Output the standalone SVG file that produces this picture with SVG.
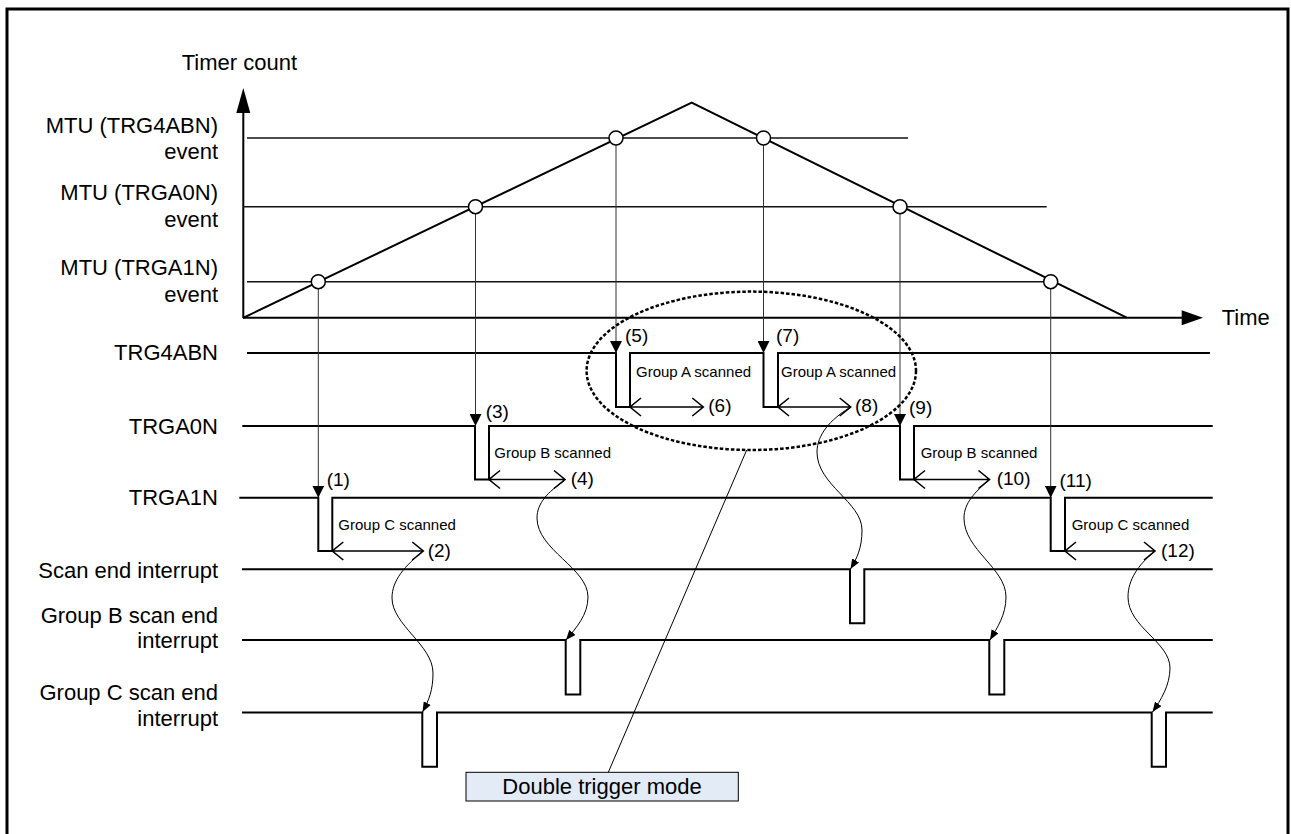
<svg xmlns="http://www.w3.org/2000/svg" width="1291" height="834" viewBox="0 0 1291 834">
<style>
text{font-family:"Liberation Sans",Arial,sans-serif;fill:#000}
.lbl{font-size:22px;text-anchor:end}
.num{font-size:19px}
.grp{font-size:15px}
.sig{fill:none;stroke:#000;stroke-width:2}
.thr{fill:none;stroke:#111;stroke-width:1.5}
.trig{fill:none;stroke:#333;stroke-width:1;marker-end:url(#fa)}
.curve{fill:none;stroke:#000;stroke-width:1;marker-end:url(#sa)}
.dbl{fill:none;stroke:#000;stroke-width:1.6}
.pt{fill:#fff;stroke:#000;stroke-width:1.5}
</style>
<defs>
<marker id="fa" markerUnits="userSpaceOnUse" markerWidth="12" markerHeight="12" refX="12" refY="6" orient="auto"><path d="M0,0 L12,6 L0,12 z" fill="#000"/></marker>
<marker id="sa" markerUnits="userSpaceOnUse" markerWidth="10" markerHeight="8" refX="10" refY="4" orient="auto"><path d="M0,0 L10,4 L0,8 z" fill="#000"/></marker>
</defs>
<rect width="1291" height="834" fill="#fff"/>
<path d="M7,834 V9 H1288 V834" fill="none" stroke="#000" stroke-width="3"/>

<g id="chart">
<path d="M243.3,318 V104" fill="none" stroke="#000" stroke-width="2"/>
<path d="M236.3,113 L243.3,88 L250.3,113 z" fill="#000"/>
<path d="M243,317.7 H1185" fill="none" stroke="#000" stroke-width="2"/>
<path d="M1181.7,310.2 L1203,317.7 L1181.7,325.2 z" fill="#000"/>
<path class="thr" d="M247,138 H908"/>
<path class="thr" d="M243,206.7 H1046.7"/>
<path class="thr" d="M247,281.7 H1051"/>
<path d="M243,318 L691.7,102.7 L1126.7,317.7" fill="none" stroke="#000" stroke-width="2"/>
<text x="181.7" y="70" style="font-size:22px">Timer count</text>
<text x="1221.7" y="325" style="font-size:22px">Time</text>
</g>

<g id="labels">
<text class="lbl" x="218" y="133">MTU (TRG4ABN)</text>
<text class="lbl" x="218" y="158.5">event</text>
<text class="lbl" x="218" y="200">MTU (TRGA0N)</text>
<text class="lbl" x="218" y="226.5">event</text>
<text class="lbl" x="218" y="275">MTU (TRGA1N)</text>
<text class="lbl" x="218" y="301.5">event</text>
<text class="lbl" x="218" y="360">TRG4ABN</text>
<text class="lbl" x="218" y="433.5">TRGA0N</text>
<text class="lbl" x="218" y="505">TRGA1N</text>
<text class="lbl" x="218" y="578">Scan end interrupt</text>
<text class="lbl" x="218" y="623">Group B scan end</text>
<text class="lbl" x="218" y="648">interrupt</text>
<text class="lbl" x="218" y="700">Group C scan end</text>
<text class="lbl" x="218" y="725.5">interrupt</text>
</g>

<g id="sig-trg4abn">
<path class="sig" d="M247,353 H616 V407 H630 V353 H763.5 V407 H778 V353 H1210"/>
</g>
<g id="sig-trga0n">
<path class="sig" d="M242.3,426 H475 V479.5 H489 V426 H900 V479.5 H914 V426 H1212.7"/>
</g>
<g id="sig-trga1n">
<path class="sig" d="M239.3,497.7 H318.3 V551 H332.3 V497.7 H1050.7 V551 H1065 V497.7 H1212.7"/>
</g>
<g id="sig-scanend">
<path class="sig" d="M242,569.3 H850 V623.3 H864.3 V569.3 H1212.7"/>
</g>
<g id="sig-groupb">
<path class="sig" d="M242,640 H565.7 V694.5 H580.3 V640 H989.3 V694.5 H1004.3 V640 H1212.7"/>
</g>
<g id="sig-groupc">
<path class="sig" d="M242,712.5 H422.3 V766.7 H437 V712.5 H1151.7 V766.7 H1166 V712.5 H1212.7"/>
</g>

<g id="scan-periods">
<path class="dbl" d="M332.3,551 H423.3 M343.3,542 L332.3,551 L343.3,560 M412.3,542 L423.3,551 L412.3,560"/>
<path class="dbl" d="M489,479.5 H565 M500,470.5 L489,479.5 L500,488.5 M554,470.5 L565,479.5 L554,488.5"/>
<path class="dbl" d="M630,407 H703.3 M641,398 L630,407 L641,416 M692.3,398 L703.3,407 L692.3,416"/>
<path class="dbl" d="M778,407 H850.7 M789,398 L778,407 L789,416 M839.7,398 L850.7,407 L839.7,416"/>
<path class="dbl" d="M914,479.5 H989.5 M925,470.5 L914,479.5 L925,488.5 M978.5,470.5 L989.5,479.5 L978.5,488.5"/>
<path class="dbl" d="M1065,551 H1155 M1076,542 L1065,551 L1076,560 M1144,542 L1155,551 L1144,560"/>
<text class="grp" x="338.3" y="530">Group C scanned</text>
<text class="grp" x="494.3" y="458">Group B scanned</text>
<text class="grp" x="636" y="377">Group A scanned</text>
<text class="grp" x="781" y="377">Group A scanned</text>
<text class="grp" x="920.7" y="458">Group B scanned</text>
<text class="grp" x="1071.7" y="530">Group C scanned</text>
<text class="num" x="326.7" y="486">(1)</text>
<text class="num" x="427.7" y="557">(2)</text>
<text class="num" x="485.7" y="418">(3)</text>
<text class="num" x="570.7" y="485">(4)</text>
<text class="num" x="625" y="342">(5)</text>
<text class="num" x="708.3" y="412">(6)</text>
<text class="num" x="776" y="342">(7)</text>
<text class="num" x="855" y="412">(8)</text>
<text class="num" x="909" y="414">(9)</text>
<text class="num" x="996.7" y="485">(10)</text>
<text class="num" x="1059.5" y="487">(11)</text>
<text class="num" x="1161" y="557">(12)</text>
</g>

<g id="connectors">
<path class="trig" d="M318.3,289 V497.7"/>
<path class="trig" d="M475.5,214 V426"/>
<path class="trig" d="M616,145 V353"/>
<path class="trig" d="M763.5,145 V353"/>
<path class="trig" d="M900,214 V426"/>
<path class="trig" d="M1050.7,289 V497.7"/>
<path class="curve" d="M423,551 C405,566 392,580 392,598 C392,625 433,645 433,673 C433,690 429,700 422.5,712"/>
<path class="curve" d="M564,481 C548,492 537,503 537,518 C537,550 588,568 588,597 C588,615 576,628 566,640"/>
<path class="curve" d="M849,408 C830,420 817,435 817,452 C817,485 862,502 862,530 C862,548 857,558 850.5,569"/>
<path class="curve" d="M989,480 C975,492 964,503 964,518 C964,550 1006,568 1006,597 C1006,615 997,628 990,640"/>
<path class="curve" d="M1154,552 C1138,565 1128,580 1128,597 C1128,627 1170,642 1170,668 C1170,685 1161,700 1152.5,712"/>
<path d="M746.7,450 L608.3,772.3" fill="none" stroke="#000" stroke-width="1"/>
</g>

<g id="points">
<circle class="pt" cx="318.3" cy="281.7" r="7"/>
<circle class="pt" cx="475.5" cy="206.7" r="7"/>
<circle class="pt" cx="616" cy="138" r="7"/>
<circle class="pt" cx="763.5" cy="138" r="7"/>
<circle class="pt" cx="900" cy="206.7" r="7"/>
<circle class="pt" cx="1050.7" cy="281.7" r="7"/>
</g>

<g id="double-trigger">
<ellipse cx="751.3" cy="370.8" rx="164.7" ry="79.2" fill="none" stroke="#000" stroke-width="2.5" stroke-dasharray="3.5 2"/>
</g>

<g id="note">
<rect x="466" y="772.3" width="272.3" height="28.7" fill="#e3ebf7" stroke="#000" stroke-width="1"/>
<text x="602" y="793.5" style="font-size:22px;text-anchor:middle">Double trigger mode</text>
</g>
</svg>
